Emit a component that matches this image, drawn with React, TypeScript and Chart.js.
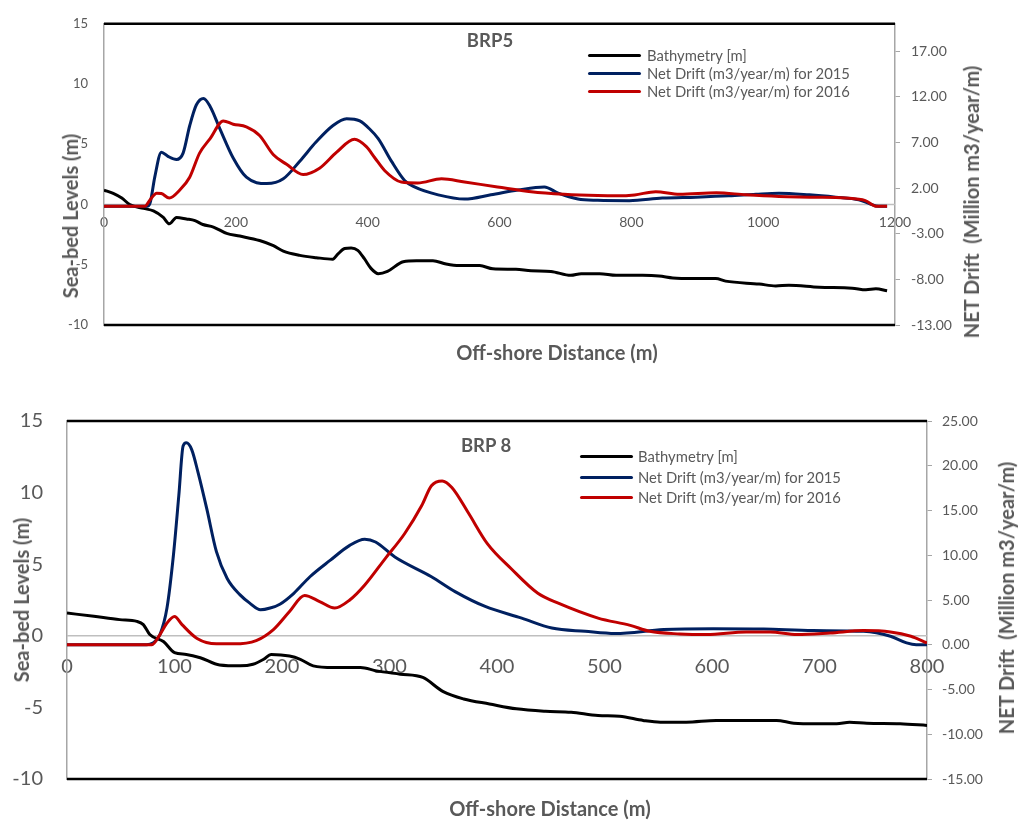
import React, { useEffect, useRef } from "react";
import { Chart, registerables } from "chart.js";

Chart.register(...registerables);

const FONT = "Lato, 'Open Sans', 'DejaVu Sans', sans-serif";
const TEXT_COLOR = "#595959";
const AXIS_GRAY = "#A6A6A6";
const ZERO_GRAY = "#BFBFBF";
const COLOR_BATHY = "#000000";
const COLOR_2015 = "#002060";
const COLOR_2016 = "#C00000";
const PAGE_W = 1019;

const seriesLabels = ["Bathymetry [m]", "Net Drift (m3/year/m) for 2015", "Net Drift (m3/year/m) for 2016"];
const seriesColors = [COLOR_BATHY, COLOR_2015, COLOR_2016];

// ---------- BRP5 ----------
const brp5Title = "BRP5";
const brp5XTicks = [0, 200, 400, 600, 800, 1000, 1200];
const brp5LeftTicks = [-10, -5, 0, 5, 10, 15];
const brp5RightTicks = [-13, -8, -3, 2, 7, 12, 17];

const brp5BathyX = [0, 14, 27, 39, 60, 75, 90, 99, 110, 125, 138, 150, 166, 186, 206, 236, 257, 272, 297, 322, 347, 355, 365, 375, 385, 395, 405, 416, 430, 454, 474, 499, 519, 539, 570, 590, 625, 648, 678, 708, 724, 752, 777, 817, 842, 863, 893, 928, 943, 994, 1019, 1039, 1085, 1135, 1156, 1171, 1188];
const brp5BathyY = [1.2, 0.93, 0.54, 0, -0.32, -0.53, -1.07, -1.6, -1.07, -1.2, -1.34, -1.66, -1.87, -2.4, -2.62, -2.99, -3.42, -3.87, -4.22, -4.41, -4.54, -4.1, -3.65, -3.6, -3.8, -4.5, -5.3, -5.74, -5.55, -4.75, -4.67, -4.67, -4.94, -5.07, -5.07, -5.34, -5.38, -5.5, -5.55, -5.88, -5.74, -5.74, -5.88, -5.88, -5.93, -6.09, -6.14, -6.14, -6.36, -6.6, -6.76, -6.7, -6.87, -6.94, -7.08, -7.0, -7.16];

const brp5Drift2015X = [0, 65, 70, 77, 87, 97, 110, 120, 130, 140, 151, 161, 176, 196, 216, 247, 272, 297, 322, 347, 368, 388, 403, 416, 436, 456, 471, 507, 547, 587, 628, 668, 689, 719, 749, 797, 847, 898, 948, 989, 1024, 1070, 1110, 1145, 1161, 1175, 1188];
const brp5Drift2015Y = [0, 0, 0.38, 3.2, 5.94, 5.48, 5.13, 5.83, 8.83, 11.1, 11.82, 10.94, 8.47, 5.3, 3.19, 2.49, 3.02, 4.95, 7.07, 8.83, 9.6, 9.36, 8.47, 7.42, 4.95, 2.84, 2.13, 1.26, 0.8, 1.26, 1.79, 2.13, 1.44, 0.8, 0.66, 0.62, 0.91, 1.01, 1.15, 1.33, 1.44, 1.26, 1.01, 0.73, 0.3, 0, 0];

const brp5Drift2016X = [0, 62, 70, 80, 87, 99, 115, 130, 145, 161, 181, 196, 216, 236, 257, 277, 302, 327, 353, 380, 398, 411, 426, 451, 476, 512, 547, 597, 648, 698, 749, 779, 805, 837, 873, 929, 974, 1024, 1075, 1125, 1155, 1171, 1188];
const brp5Drift2016Y = [0, 0, 0.73, 1.44, 1.4, 0.91, 1.79, 3.19, 5.83, 7.42, 9.36, 9.0, 8.72, 7.77, 5.66, 4.6, 3.48, 4.18, 5.94, 7.35, 6.54, 5.3, 3.9, 2.66, 2.56, 3.02, 2.66, 2.13, 1.61, 1.33, 1.18, 1.15, 1.25, 1.61, 1.33, 1.5, 1.26, 1.08, 1.01, 0.91, 0.62, 0.02, 0];

// ---------- BRP 8 ----------
const brp8Title = "BRP 8";
const brp8XTicks = [0, 100, 200, 300, 400, 500, 600, 700, 800];
const brp8LeftTicks = [-10, -5, 0, 5, 10, 15];
const brp8RightTicks = [-15, -10, -5, 0, 5, 10, 15, 20, 25];

const brp8BathyX = [0, 25, 49, 65, 71, 77, 90, 100, 111, 124, 142, 161, 173, 183, 190, 207, 217, 229, 248, 273, 288, 310, 331, 350, 369, 393, 418, 445, 469, 494, 514, 536, 552, 576, 604, 635, 660, 676, 697, 716, 728, 744, 775, 800];
const brp8BathyY = [1.59, 1.36, 1.13, 1.01, 0.78, 0.09, -0.42, -1.18, -1.3, -1.53, -2.04, -2.1, -1.99, -1.64, -1.3, -1.41, -1.64, -2.1, -2.22, -2.22, -2.45, -2.68, -2.91, -3.9, -4.41, -4.76, -5.1, -5.27, -5.34, -5.57, -5.62, -5.91, -6.03, -6.03, -5.91, -5.91, -5.91, -6.1, -6.14, -6.14, -6.03, -6.1, -6.14, -6.26];

const brp8Drift2015X = [0, 74, 80, 86.5, 93, 99, 104, 108, 111, 116, 122, 130, 139, 149, 161, 170, 180, 189, 198, 211, 226, 245, 263, 277, 287, 305, 339, 361, 389, 423, 451, 482, 510, 555, 601, 648, 694, 741, 766, 781, 790, 800];
const brp8Drift2015Y = [0, 0, 0.2, 1.14, 4.1, 10.0, 16.65, 22.2, 22.56, 21.8, 19.2, 15.2, 10.4, 7.4, 5.57, 4.65, 3.9, 4.1, 4.53, 5.75, 7.6, 9.45, 11.1, 11.78, 11.48, 9.8, 7.6, 5.94, 4.28, 2.98, 1.87, 1.5, 1.25, 1.7, 1.8, 1.76, 1.58, 1.5, 0.95, 0.21, 0, 0];

const brp8Drift2016X = [0, 79, 86.5, 93, 100, 107, 121, 139, 155, 176, 192, 207, 221, 235, 249, 263, 277, 296, 314, 330, 339, 349, 358, 373, 391, 413, 438, 457, 494, 524, 542, 570, 595, 632, 654, 679, 710, 741, 766, 785, 800];
const brp8Drift2016Y = [0, 0, 1.14, 2.43, 3.17, 2.25, 0.7, 0.1, 0.1, 0.47, 1.7, 3.72, 5.5, 4.83, 4.1, 5.0, 6.68, 9.63, 12.4, 15.55, 17.76, 18.3, 17.57, 14.8, 11.3, 8.52, 5.75, 4.64, 2.98, 2.17, 1.5, 1.21, 1.14, 1.43, 1.43, 1.14, 1.32, 1.58, 1.43, 0.95, 0.21];

type Spec = {
  canvasTop: number;
  canvasHeight: number;
  area: { left: number; right: number; top: number; bottom: number };
  xMax: number;
  leftRange: [number, number];
  rightRange: [number, number];
  xTicks: number[];
  leftTicks: number[];
  rightTicks: number[];
  xs: number[][];
  ys: number[][];
  xTickSize: number;
  xTickPad: number;
  leftTickSize: number;
  leftTickPad: number;
  rightTickSize: number;
  rightTickPad: number;
};

const framePlugin = {
  id: "frame",
  beforeDatasetsDraw(chart: any) {
    const { ctx, chartArea, scales } = chart;
    const y0 = scales.y.getPixelForValue(0);
    ctx.save();
    ctx.strokeStyle = ZERO_GRAY;
    ctx.lineWidth = 1.5;
    ctx.beginPath();
    ctx.moveTo(chartArea.left, y0);
    ctx.lineTo(chartArea.right, y0);
    ctx.stroke();
    ctx.restore();
  },
  afterDraw(chart: any) {
    const { ctx, chartArea } = chart;
    ctx.save();
    ctx.strokeStyle = "#000000";
    ctx.lineWidth = 2.5;
    ctx.beginPath();
    ctx.moveTo(chartArea.left, chartArea.top);
    ctx.lineTo(chartArea.right, chartArea.top);
    ctx.moveTo(chartArea.left, chartArea.bottom);
    ctx.lineTo(chartArea.right, chartArea.bottom);
    ctx.stroke();
    ctx.restore();
  },
};

function buildConfig(p: Spec): any {
  const datasets = p.xs.map((xs, i) => ({
    label: seriesLabels[i],
    data: xs.map((x, j) => ({ x, y: p.ys[i][j] })),
    borderColor: seriesColors[i],
    backgroundColor: seriesColors[i],
    borderWidth: 3,
    pointRadius: 0,
    fill: false,
    cubicInterpolationMode: "monotone",
    yAxisID: i === 0 ? "y" : "y1",
    order: 2 - i,
  }));
  return {
    type: "line",
    data: { datasets },
    plugins: [framePlugin],
    options: {
      animation: false,
      responsive: false,
      events: [],
      layout: { padding: { top: p.area.top, bottom: p.canvasHeight - p.area.bottom, left: 0, right: 0 } },
      plugins: { legend: { display: false }, tooltip: { enabled: false }, title: { display: false } },
      scales: {
        x: {
          type: "linear",
          axis: "x",
          min: 0,
          max: p.xMax,
          position: { y: 0 },
          afterBuildTicks: (s: any) => {
            s.ticks = p.xTicks.map((v) => ({ value: v }));
          },
          grid: { display: false, drawTicks: false },
          border: { display: false },
          ticks: {
            color: TEXT_COLOR,
            font: { family: FONT, size: p.xTickSize },
            padding: p.xTickPad,
            maxRotation: 0,
            autoSkip: false,
            callback: (v: any) => String(v),
          },
        },
        y: {
          type: "linear",
          position: "left",
          min: p.leftRange[0],
          max: p.leftRange[1],
          afterBuildTicks: (s: any) => {
            s.ticks = p.leftTicks.map((v) => ({ value: v }));
          },
          afterFit: (s: any) => {
            s.width = p.area.left;
          },
          grid: { display: false, drawTicks: false },
          border: { display: true, color: AXIS_GRAY, width: 1.5 },
          ticks: {
            color: TEXT_COLOR,
            font: { family: FONT, size: p.leftTickSize },
            padding: p.leftTickPad,
            autoSkip: false,
            callback: (v: any) => String(v),
          },
        },
        y1: {
          type: "linear",
          position: "right",
          min: p.rightRange[0],
          max: p.rightRange[1],
          afterBuildTicks: (s: any) => {
            s.ticks = p.rightTicks.map((v) => ({ value: v }));
          },
          afterFit: (s: any) => {
            s.width = PAGE_W - p.area.right;
          },
          grid: { display: true, drawOnChartArea: false, drawTicks: true, tickLength: 5, color: AXIS_GRAY, lineWidth: 1 },
          border: { display: true, color: AXIS_GRAY, width: 1.5 },
          ticks: {
            color: TEXT_COLOR,
            font: { family: FONT, size: p.rightTickSize },
            padding: p.rightTickPad,
            autoSkip: false,
            callback: (v: any) => Number(v).toFixed(2),
          },
        },
      },
    },
  };
}

function ChartPanel({ spec }: { spec: Spec }) {
  const ref = useRef<HTMLCanvasElement | null>(null);
  useEffect(() => {
    if (!ref.current) return;
    const chart = new Chart(ref.current, buildConfig(spec));
    return () => chart.destroy();
  }, [spec]);
  return (
    <canvas
      ref={ref}
      width={PAGE_W}
      height={spec.canvasHeight}
      style={{ position: "absolute", left: 0, top: spec.canvasTop, width: PAGE_W, height: spec.canvasHeight }}
    />
  );
}

const brp5Spec: Spec = {
  canvasTop: 0,
  canvasHeight: 370,
  area: { left: 104, right: 895, top: 13, bottom: 325 },
  xMax: 1200,
  leftRange: [-10, 15],
  rightRange: [-13, 20],
  xTicks: brp5XTicks,
  leftTicks: brp5LeftTicks,
  rightTicks: brp5RightTicks,
  xs: [brp5BathyX, brp5Drift2015X, brp5Drift2016X],
  ys: [brp5BathyY, brp5Drift2015Y, brp5Drift2016Y],
  xTickSize: 14,
  xTickPad: 10,
  leftTickSize: 13,
  leftTickPad: 16,
  rightTickSize: 14,
  rightTickPad: 11,
};

const brp8Spec: Spec = {
  canvasTop: 385,
  canvasHeight: 438,
  area: { left: 67, right: 927, top: 33, bottom: 394 },
  xMax: 800,
  leftRange: [-10, 15],
  rightRange: [-15, 25],
  xTicks: brp8XTicks,
  leftTicks: brp8LeftTicks,
  rightTicks: brp8RightTicks,
  xs: [brp8BathyX, brp8Drift2015X, brp8Drift2016X],
  ys: [brp8BathyY, brp8Drift2015Y, brp8Drift2016Y],
  xTickSize: 20,
  xTickPad: 19,
  leftTickSize: 20,
  leftTickPad: 24,
  rightTickSize: 14,
  rightTickPad: 10,
};

function Label({ text, cx, cy, size, bold, rotate }: { text: string; cx: number; cy: number; size: number; bold?: boolean; rotate?: boolean }) {
  return (
    <div
      style={{
        position: "absolute",
        left: cx,
        top: cy,
        transform: `translate(-50%, -50%)${rotate ? " rotate(-90deg)" : ""}`,
        whiteSpace: "pre",
        fontFamily: FONT,
        fontSize: size,
        fontWeight: bold ? 700 : 400,
        color: TEXT_COLOR,
        lineHeight: 1,
      }}
    >
      {text}
    </div>
  );
}

function Legend({ lineX1, lineX2, textX, rows, size }: { lineX1: number; lineX2: number; textX: number; rows: number[]; size: number }) {
  return (
    <>
      {rows.map((y, i) => (
        <React.Fragment key={i}>
          <div
            style={{
              position: "absolute",
              left: lineX1,
              top: y - 1.5,
              width: lineX2 - lineX1,
              height: 3,
              borderRadius: 1.5,
              background: seriesColors[i],
            }}
          />
          <div
            style={{
              position: "absolute",
              left: textX,
              top: y,
              transform: "translateY(-50%)",
              whiteSpace: "pre",
              fontFamily: FONT,
              fontSize: size,
              color: TEXT_COLOR,
              lineHeight: 1,
            }}
          >
            {seriesLabels[i]}
          </div>
        </React.Fragment>
      ))}
    </>
  );
}

export default function App() {
  return (
    <div style={{ position: "absolute", left: 0, top: 0, width: PAGE_W, height: 823, background: "#ffffff", overflow: "hidden" }}>
      <ChartPanel spec={brp5Spec} />
      <ChartPanel spec={brp8Spec} />

      <Label text={brp5Title} cx={490} cy={40} size={18.5} bold />
      <Label text="Sea-bed Levels (m)" cx={70} cy={216} size={20} bold rotate />
      <Label text="NET Drift  (Million m3/year/m)" cx={971} cy={202} size={20} bold rotate />
      <Label text="Off-shore Distance (m)" cx={557} cy={352} size={20} bold />
      <Legend lineX1={588} lineX2={641} textX={647} rows={[55, 73, 91]} size={14.8} />

      <Label text={brp8Title} cx={486} cy={445} size={18.5} bold />
      <Label text="Sea-bed Levels (m)" cx={21} cy={600} size={20} bold rotate />
      <Label text="NET Drift  (Million m3/year/m)" cx={1006} cy={598} size={20} bold rotate />
      <Label text="Off-shore Distance (m)" cx={550} cy={808} size={20} bold />
      <Legend lineX1={580} lineX2={633} textX={638} rows={[456, 477, 497]} size={14.8} />
    </div>
  );
}
